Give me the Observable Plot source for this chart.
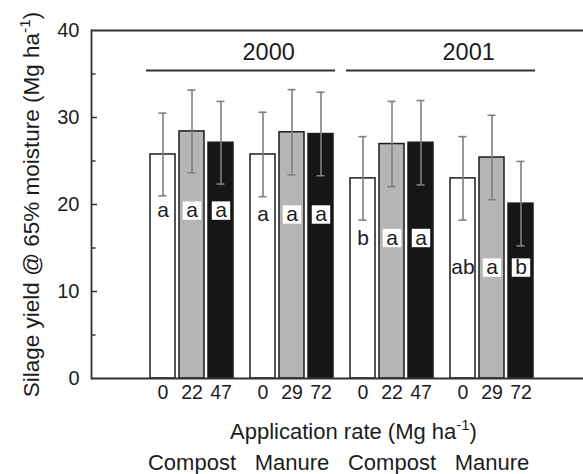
<!DOCTYPE html>
<html>
<head>
<meta charset="utf-8">
<script src="https://cdn.jsdelivr.net/npm/d3@7"></script>
<script src="https://cdn.jsdelivr.net/npm/@observablehq/plot@0.6"></script>
<style>
  html, body { margin: 0; padding: 0; background: #fff; overflow: hidden; }
  #chart { width: 583px; height: 474px; overflow: hidden; }
  #chart svg { display: block; }
</style>
</head>
<body>
<div id="chart"></div>
<script>
// ---- data ----
const groups = ["Compost 2000", "Manure 2000", "Compost 2001", "Manure 2001"];
const groupLabels = ["Compost", "Manure", "Compost", "Manure"];
const years = ["2000", "2001"];
const yearStartGroups = ["Compost 2000", "Compost 2001"];
const compostRates = ["0", "22", "47"];
const manureRates = ["0", "29", "72"];
const yields = [25.75, 28.4, 27.1, 25.75, 28.3, 28.1, 23.0, 26.95, 27.1, 23.0, 25.4, 20.1];
const errors = [4.75, 4.75, 4.75, 4.85, 4.9, 4.8, 4.8, 4.9, 4.85, 4.8, 4.85, 4.85];
const letters = ["a", "a", "a", "a", "a", "a", "b", "a", "a", "ab", "a", "b"];
const letterLevels = [19.3, 18.85, 16.15, 12.75];
const yearLineLevel = 35.4;
const yearTextLevel = 36.6;
const yDomain = [0, 40];
const yTicks = [0, 10, 20, 30, 40];
const yMajorInner = [10, 20, 30];
const yMinorTicks = [5, 15, 25, 35];

const rows = [];
groups.forEach((g, gi) => {
  const rates = gi % 2 === 0 ? compostRates : manureRates;
  rates.forEach((r, ri) => {
    const k = gi * 3 + ri;
    rows.push({group: g, idx: String(ri + 1), rate: r, y: yields[k], e: errors[k], letter: letters[k], ly: letterLevels[gi]});
  });
});
// top and bottom frame edges, one pair per group
const edges = groups.flatMap(g => yDomain.map(v => ({group: g, v})));
const lastGroup = groups[groups.length - 1];
const firstGroup = groups[0];

const font = "'Liberation Sans', Arial, Helvetica, sans-serif";
const ink = "#1c1c1c";
const lineInk = "#333333";
const errInk = "#7f7f7f";

const svg = Plot.plot({
  width: 583,
  height: 474,
  marginLeft: 91,
  marginRight: 0,
  marginTop: 30,
  marginBottom: 96,
  style: {fontFamily: font, color: ink, background: "#fff"},
  fx: {domain: groups, range: [91, 491], paddingInner: 0, paddingOuter: 0, axis: null},
  x: {domain: ["1", "2", "3"], range: [149, 234], paddingInner: 0.13, paddingOuter: 0, axis: null},
  y: {domain: yDomain, axis: null},
  color: {domain: ["1", "2", "3"], range: ["#ffffff", "#b5b5b5", "#161616"]},
  marks: [
    // bars
    Plot.barY(rows, {fx: "group", x: "idx", y: "y", fill: "idx", stroke: ink, strokeWidth: 1.5}),
    // error bars
    Plot.ruleX(rows, {fx: "group", x: "idx", y1: d => d.y - d.e, y2: d => d.y + d.e, stroke: errInk, strokeWidth: 1.6}),
    Plot.tickY(rows, {fx: "group", x: "idx", y: d => d.y - d.e, inset: 8.5, stroke: errInk, strokeWidth: 1.6}),
    Plot.tickY(rows, {fx: "group", x: "idx", y: d => d.y + d.e, inset: 8.5, stroke: errInk, strokeWidth: 1.6}),
    // letter boxes and letters
    Plot.dot(rows.filter(d => d.idx !== "1"), {fx: "group", x: "idx", y: "ly", symbol: "square", r: 10.4, fill: "#fff", stroke: null}),
    Plot.text(rows, {fx: "group", x: "idx", y: "ly", text: "letter", fontSize: 21, fill: ink, lineAnchor: "middle"}),
    // rate tick labels
    Plot.text(rows, {fx: "group", x: "idx", text: "rate", frameAnchor: "bottom", dy: 14, lineAnchor: "middle", fontSize: 19.5, fill: ink}),
    // group labels
    Plot.text(groups, {fx: d => d, x: () => "2", text: (d, i) => groupLabels[i], frameAnchor: "bottom", dy: 84, lineAnchor: "middle", fontSize: 22, fill: ink}),
    // year lines and labels (span two groups, drawn from the first group of each year)
    Plot.ruleY(yearStartGroups, {fx: d => d, y: () => yearLineLevel, insetLeft: 55, insetRight: -144, stroke: lineInk, strokeWidth: 1.8}),
    Plot.text(yearStartGroups, {fx: d => d, y: () => yearTextLevel, text: (d, i) => years[i], frameAnchor: "left", dx: 151, lineAnchor: "bottom", fontSize: 23.5, fill: ink}),
    // frame edges: bottom and top, across the full width
    Plot.ruleY(edges.filter(d => d.group !== lastGroup), {fx: "group", y: "v", stroke: lineInk, strokeWidth: 1.8}),
    Plot.ruleY(edges.filter(d => d.group === lastGroup), {fx: "group", y: "v", insetRight: -93, stroke: lineInk, strokeWidth: 1.8}),
    // y axis line and inward ticks in the leftmost group
    Plot.frame({anchor: "left", facetAnchor: "left", stroke: lineInk, strokeWidth: 1.8}),
    Plot.ruleY(yMajorInner.map(v => ({group: firstGroup, v})), {fx: "group", y: "v", insetRight: 94, stroke: lineInk, strokeWidth: 1.5}),
    Plot.ruleY(yMinorTicks.map(v => ({group: firstGroup, v})), {fx: "group", y: "v", insetRight: 95.5, stroke: lineInk, strokeWidth: 1.5}),
    Plot.axisY({ticks: yTicks, tickSize: 0, tickPadding: 12, fontSize: 20, fill: ink, label: null}),
    // titles
    Plot.text(["Silage yield @ 65% moisture (Mg ha⁻¹)"], {facet: "super", text: d => d, frameAnchor: "left", rotate: -90, dx: -53, textAnchor: "middle", lineAnchor: "bottom", fontSize: 22.5, fill: ink}),
    Plot.text(["Application rate (Mg ha⁻¹)"], {facet: "super", text: d => d, frameAnchor: "bottom", dx: 62, dy: 53, textAnchor: "middle", lineAnchor: "middle", fontSize: 22, fill: ink})
  ]
});

// render superscripts as real tspans
d3.select(svg).selectAll("text").each(function() {
  const t = this.textContent;
  if (!t.includes("⁻¹")) return;
  const [pre, post] = t.split("⁻¹");
  while (this.firstChild) this.removeChild(this.firstChild);
  this.appendChild(document.createTextNode(pre));
  const sup = document.createElementNS("http://www.w3.org/2000/svg", "tspan");
  sup.setAttribute("dy", "-0.55em");
  sup.setAttribute("font-size", "0.68em");
  sup.textContent = "-1";
  const rest = document.createElementNS("http://www.w3.org/2000/svg", "tspan");
  rest.setAttribute("dy", "0.38em");
  rest.textContent = post;
  this.appendChild(sup);
  this.appendChild(rest);
});

document.getElementById("chart").appendChild(svg);
</script>
</body>
</html>
